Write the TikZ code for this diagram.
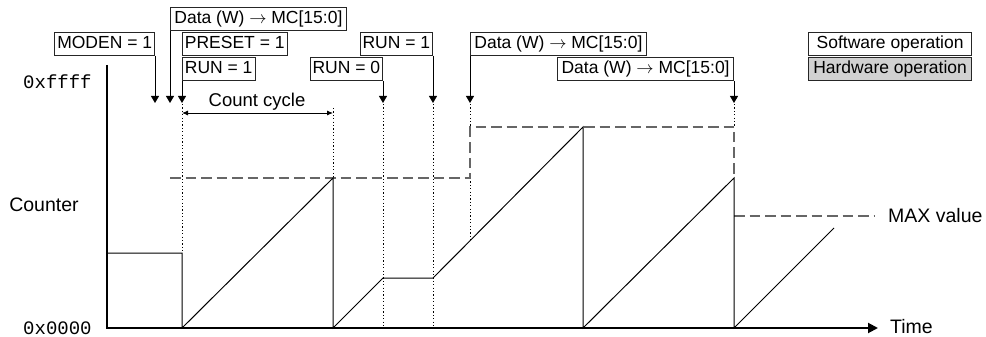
\documentclass[tikz,border=0pt]{standalone}
\usepackage{fontspec}
\setmainfont{Liberation Sans}
\newfontfamily\hexfont{Liberation Mono}
\usetikzlibrary{arrows.meta}
\begin{document}
\begin{tikzpicture}[x=1pt,y=-1pt,
  opbox/.style={draw=black!85, line width=0.8pt, inner xsep=2.5pt, inner ysep=3.5pt,
    text height=12.5pt, text depth=3.5pt, font=\fontsize{17.5}{20}\selectfont},
  databox/.style={opbox, minimum width=176pt},
  legbox/.style={opbox, minimum width=163pt},
  hwbox/.style={legbox, fill=black!18},
  evline/.style={line width=0.9pt, -{Triangle[width=8pt,length=7pt]}},
  dotl/.style={line width=0.9pt, dash pattern=on 1.2pt off 2.2pt},
  dashl/.style={line width=1.1pt, draw=black!60, dash pattern=on 10.5pt off 5pt},
  sig/.style={line width=1pt},
  axis/.style={line width=2pt},
  lab/.style={font=\fontsize{19.5}{22}\selectfont, inner sep=0pt},
  hexlab/.style={font=\hexfont\fontsize{19}{22}\selectfont, inner sep=0pt}
]
\useasboundingbox (0,0) rectangle (986,337);

% axis labels
\node[hexlab, anchor=west] (ffff) at (23,82) {0xffff};
\node[hexlab, anchor=west] (zero) at (23,328) {0x0000};
\node[lab] (counter) at (44,205) {Counter};
\node[lab, anchor=west] (maxv) at (888,216) {MAX value};
\node[lab, anchor=west] (time) at (890,326.5) {Time};

% dotted guide lines
\draw[dotl] (182,104) -- (182,253);
\draw[dotl] (333,108) -- (333,178);
\draw[dotl] (383,104) -- (383,328);
\draw[dotl] (433,104) -- (433,328);
\draw[dotl] (470,104) -- (470,127);
\draw[dotl] (470,178) -- (470,240);
\draw[dotl] (734,104) -- (734,127);

% dashed MAX value lines
\draw[dashl] (170,178) -- (470,178) -- (470,127) -- (734,127) -- (734,178);
\draw[dashl] (734,216) -- (875,216);

% counter signal
\draw[sig] (107,253) -- (182,253) -- (182,328) -- (333,178) -- (333,328)
  -- (383,278) -- (433,278) -- (583,127) -- (583,328) -- (734,178)
  -- (734,328) -- (834,228);

% axes
\coordinate (ytop) at (107,65);
\coordinate (orig) at (107,328);
\coordinate (xend) at (878,328);
\draw[axis] (ytop) -- (orig);
\draw[axis, -{Triangle[width=10pt,length=10pt]}] ([xshift=-1pt]orig) -- (xend);

% count cycle
\node[font=\fontsize{18.5}{22}\selectfont, inner sep=0pt] (cc) at (257,102) {Count cycle};
\coordinate (ccL) at (182,113);
\coordinate (ccR) at (333,113);
\draw[line width=0.9pt, {Latex[length=6pt,width=5pt]}-{Latex[length=6pt,width=5pt]}] (ccL) -- (ccR);

% operation boxes
\node[opbox, anchor=north east] (moden) at (155,32) {MODEN = 1};
\node[databox, anchor=north west] (data1) at (170,7) {Data (W) $\rightarrow$ MC[15:0]};
\node[opbox, anchor=north west] (preset) at (182,32) {PRESET = 1};
\node[opbox, anchor=north west] (run1) at (182,57) {RUN = 1};
\node[opbox, anchor=north east] (run0) at (383,57) {RUN = 0};
\node[opbox, anchor=north east] (run1b) at (433,32) {RUN = 1};
\node[databox, anchor=north west] (data2) at (470,32) {Data (W) $\rightarrow$ MC[15:0]};
\node[databox, anchor=north east] (data3) at (734,57) {Data (W) $\rightarrow$ MC[15:0]};

% legend
\node[legbox, anchor=north east] (sw) at (972,32) {Software operation};
\node[hwbox, anchor=north east] (hw) at (972,57) {Hardware operation};

% event arrows
\coordinate (tM) at (155,103);
\coordinate (tD1) at (170,103);
\coordinate (tR1) at (182,103);
\coordinate (tR0) at (383,103);
\coordinate (tR1b) at (433,103);
\coordinate (tD2) at (470,103);
\coordinate (tD3) at (734,103);
\draw[evline] (moden.south east) -- (tM);
\draw[evline] (data1.south west) -- (tD1);
\draw[evline] (run1.south west) -- (tR1);
\draw[evline] (run0.south east) -- (tR0);
\draw[evline] (run1b.south east) -- (tR1b);
\draw[evline] (data2.south west) -- (tD2);
\draw[evline] (data3.south east) -- (tD3);
\end{tikzpicture}
\end{document}
